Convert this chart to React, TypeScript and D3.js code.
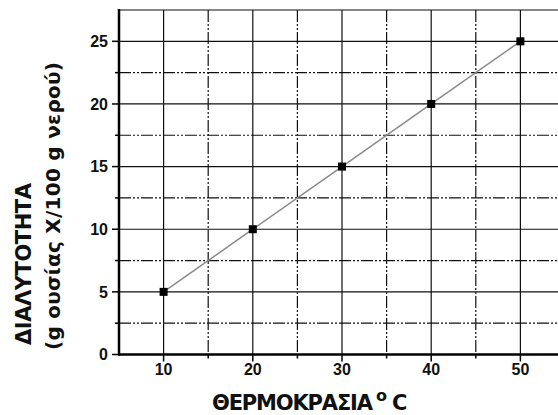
import React from "react";
import * as d3 from "d3";

const temperatures = [10, 20, 30, 40, 50];
const solubility = [5, 10, 15, 20, 25];
const xMajorTicks = [10, 20, 30, 40, 50];
const xMinorTicks = [15, 25, 35, 45];
const yMajorTicks = [0, 5, 10, 15, 20, 25];
const yMinorTicks = [2.5, 7.5, 12.5, 17.5, 22.5];
const xTitle = "ΘΕΡΜΟΚΡΑΣΙΑ";
const xTitleSup = "o";
const xTitleUnit = "C";
const yTitle1 = "ΔΙΑΛΥΤΟΤΗΤΑ";
const yTitle2 = "(g ουσίας X/100 g νερού)";

const W = 558;
const H = 415;

export default function App() {
  const x = d3.scaleLinear().domain([5, 55]).range([119, 565]);
  const y = d3.scaleLinear().domain([0, 27.5]).range([354.5, 10]);
  const left = x(5);
  const bottom = y(0);
  const top = y(27.5);
  const right = W;
  const line = d3
    .line<number>()
    .x((_, i) => x(temperatures[i]))
    .y((d) => y(d));
  const dash = "12,2,2,2,2,2";
  const font = "'Liberation Sans', Arial, sans-serif";
  const titleFont = "'DejaVu Sans', Verdana, sans-serif";
  return (
    <svg
      width={W}
      height={H}
      style={{ position: "absolute", left: 0, top: 0, background: "#fff" }}
      fontFamily={font}
    >
      {/* horizontal grid */}
      {yMajorTicks.filter((v) => v > 0).map((v) => (
        <line key={"hy" + v} x1={left} x2={right} y1={y(v)} y2={y(v)} stroke="#111" strokeWidth={1.2} />
      ))}
      {yMinorTicks.map((v) => (
        <line key={"hm" + v} x1={left} x2={right} y1={y(v)} y2={y(v)} stroke="#111" strokeWidth={1.2} strokeDasharray={dash} />
      ))}
      <line x1={left} x2={right} y1={top} y2={top} stroke="#111" strokeWidth={1.2} />
      {/* vertical grid */}
      {xMajorTicks.map((v) => (
        <line key={"vx" + v} x1={x(v)} x2={x(v)} y1={top} y2={bottom} stroke="#111" strokeWidth={1.2} />
      ))}
      {xMinorTicks.map((v) => (
        <line key={"vm" + v} x1={x(v)} x2={x(v)} y1={top} y2={bottom} stroke="#111" strokeWidth={1.2} strokeDasharray={dash} />
      ))}
      {/* data line */}
      <path d={line(solubility) || ""} fill="none" stroke="#8a8a8a" strokeWidth={1.5} />
      {solubility.map((v, i) => (
        <rect key={"p" + i} x={x(temperatures[i]) - 4} y={y(v) - 4} width={8} height={8} fill="#000" />
      ))}
      {/* axes */}
      <line x1={left} x2={left} y1={top - 1} y2={bottom + 1} stroke="#000" strokeWidth={2.5} />
      <line x1={left - 1} x2={right} y1={bottom} y2={bottom} stroke="#000" strokeWidth={2.5} />
      {/* y ticks */}
      {yMajorTicks.map((v) => (
        <g key={"yt" + v}>
          <line x1={left - 7} x2={left} y1={y(v)} y2={y(v)} stroke="#000" strokeWidth={1.5} />
          <text x={left - 11} y={y(v)} dy="0.36em" textAnchor="end" fontSize={16} fontWeight="bold" fill="#111">
            {v}
          </text>
        </g>
      ))}
      {yMinorTicks.map((v) => (
        <line key={"ym" + v} x1={left - 4} x2={left} y1={y(v)} y2={y(v)} stroke="#000" strokeWidth={1.5} />
      ))}
      {/* x ticks */}
      {xMajorTicks.map((v) => (
        <g key={"xt" + v}>
          <line x1={x(v)} x2={x(v)} y1={bottom} y2={bottom + 7} stroke="#000" strokeWidth={1.5} />
          <text x={x(v)} y={375} textAnchor="middle" fontSize={16} fontWeight="bold" fill="#111">
            {v}
          </text>
        </g>
      ))}
      {xMinorTicks.map((v) => (
        <line key={"xm" + v} x1={x(v)} x2={x(v)} y1={bottom} y2={bottom + 4} stroke="#000" strokeWidth={1.5} />
      ))}
      {/* x title */}
      <g fontFamily={titleFont} fontWeight="bold" fill="#111">
        <text x={212} y={410} fontSize={21} textLength={161}>
          {xTitle}
        </text>
        <text x={376} y={401} fontSize={16}>
          {xTitleSup}
        </text>
        <text x={392} y={410} fontSize={21}>
          {xTitleUnit}
        </text>
        {/* y titles */}
        <text transform="translate(31,345) rotate(-90)" fontSize={21} textLength={162}>
          {yTitle1}
        </text>
        <text transform="translate(60,350) rotate(-90)" fontSize={20} textLength={288}>
          {yTitle2}
        </text>
      </g>
    </svg>
  );
}
